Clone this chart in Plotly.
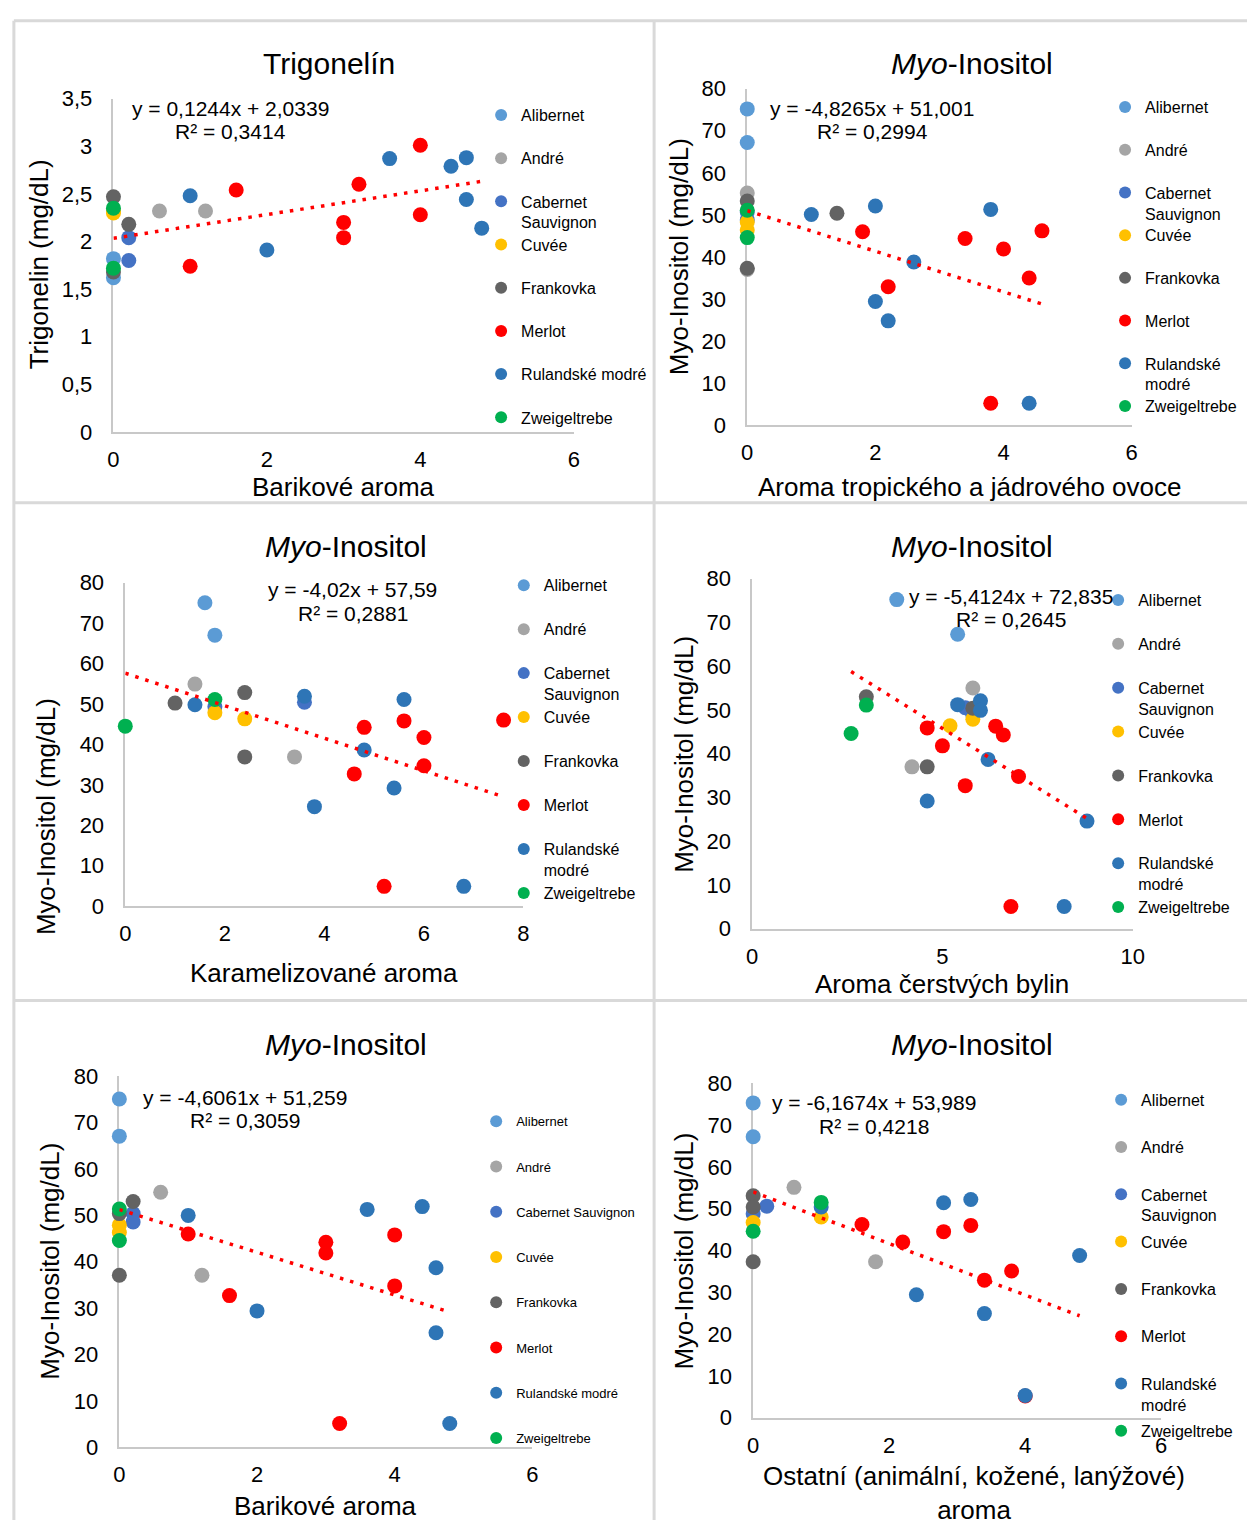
import plotly.graph_objects as go

W, H = 1259, 1533
FONT = "Liberation Sans, Arial, sans-serif"

VARIETIES = ["Alibernet", "André", "Cabernet Sauvignon", "Cuvée", "Frankovka",
             "Merlot", "Rulandské modré", "Zweigeltrebe"]
COLORS = ["#5B9BD5", "#A5A5A5", "#4472C4", "#FFC000", "#636363",
          "#FF0000", "#2E75B6", "#00B050"]

# ---- data (per variety, in VARIETIES order) ----
# Panel 1: Trigonelin vs Barikové aroma
P1_X = [[0, 0], [0.6, 1.2], [0.2, 0.2], [0, 0], [0, 0.2, 0],
        [1.6, 1.0, 3.0, 3.0, 3.2, 4.0, 4.0], [1.0, 2.0, 3.6, 4.4, 4.6, 4.6, 4.8], [0, 0]]
P1_Y = [[1.82, 1.62], [2.32, 2.32], [2.04, 1.80], [2.32, 2.30], [2.47, 2.18, 1.68],
        [2.54, 1.74, 2.20, 2.04, 2.60, 3.01, 2.28], [2.48, 1.91, 2.87, 2.79, 2.88, 2.44, 2.14], [2.35, 1.72]]
# Panel 2: Myo-Inositol vs Aroma tropického a jádrového ovoce
P2_X = [[0, 0], [0, 0], [0, 0], [0, 0], [0, 1.4, 0],
        [1.8, 2.2, 3.4, 4.0, 4.6, 4.4, 3.8], [1.0, 2.0, 2.6, 2.0, 2.2, 3.8, 4.4], [0, 0]]
P2_Y = [[75.2, 67.2], [55.2, 37.0], [50.7, 48.8], [48.3, 46.4], [53.3, 50.4, 37.3],
        [46.0, 32.9, 44.4, 41.9, 46.2, 35.0, 5.2], [50.1, 52.1, 38.8, 29.4, 24.8, 51.3, 5.2], [51.1, 44.6]]
# Panel 3: Myo-Inositol vs Karamelizované aroma
P3_X = [[1.6, 1.8], [1.4, 3.4], [1.8, 3.6], [1.8, 2.4], [1.0, 2.4, 2.4],
        [4.8, 4.6, 5.6, 6.0, 6.0, 5.2, 7.6], [1.4, 3.6, 3.8, 4.8, 5.6, 5.4, 6.8], [1.8, 0]]
P3_Y = [[75.0, 67.0], [54.9, 36.9], [49.3, 50.4], [47.8, 46.3], [50.2, 52.8, 36.9],
        [44.2, 32.7, 45.8, 41.7, 34.7, 4.9, 46.0], [49.8, 51.9, 24.6, 38.6, 51.1, 29.2, 4.9], [51.1, 44.5]]
# Panel 4: Myo-Inositol vs Aroma čerstvých bylin
P4_X = [[3.8, 5.4], [5.8, 4.2], [5.6, 5.8], [5.2, 5.8], [3.0, 5.8, 4.6],
        [4.6, 5.0, 6.4, 6.6, 7.0, 5.6, 6.8], [5.4, 6.0, 6.0, 6.2, 4.6, 8.8, 8.2], [3.0, 2.6]]
P4_Y = [[75.2, 67.3], [55.0, 37.0], [50.5, 48.8], [46.4, 47.9], [53.0, 50.4, 37.0],
        [45.9, 41.8, 46.3, 44.3, 34.8, 32.7, 5.1], [51.2, 52.1, 49.9, 38.7, 29.2, 24.6, 5.1], [51.1, 44.6]]
# Panel 5: Myo-Inositol vs Barikové aroma
P5_X = [[0, 0], [0.6, 1.2], [0.2, 0.2], [0, 0], [0.2, 0, 0],
        [1.0, 1.6, 3.0, 3.0, 4.0, 4.0, 3.2], [1.0, 2.0, 3.6, 4.4, 4.6, 4.6, 4.8], [0, 0]]
P5_Y = [[75.1, 67.1], [55.0, 37.1], [50.4, 48.6], [47.9, 46.3], [53.0, 50.4, 37.1],
        [46.0, 32.7, 44.2, 41.9, 45.8, 34.8, 5.1], [50.0, 29.4, 51.3, 51.9, 38.7, 24.7, 5.1], [51.4, 44.6]]
# Panel 6: Myo-Inositol vs Ostatní aroma
P6_X = [[0, 0], [0.6, 1.8], [0.2, 0], [0, 1.0], [0, 0, 0],
        [1.6, 2.2, 2.8, 3.2, 3.4, 3.8, 4.0], [1.0, 2.4, 2.8, 3.2, 3.4, 4.0, 4.8], [0, 1.0]]
P6_Y = [[75.3, 67.2], [55.1, 37.3], [50.6, 48.8], [46.7, 48.0], [53.1, 50.4, 37.3],
        [46.2, 42.0, 44.5, 46.0, 32.9, 35.1, 5.2], [50.4, 29.4, 51.4, 52.2, 24.9, 5.3, 38.8], [44.6, 51.5]]

TREND_SLOPE = [0.1244, -4.8265, -4.02, -5.4124, -4.6061, -6.1674]
TREND_INTERCEPT = [2.0339, 51.001, 57.59, 72.835, 51.259, 53.989]
TREND_R2 = [0.3414, 0.2994, 0.2881, 0.2645, 0.3059, 0.4218]

TITLES = ["Trigonelín", "<i>Myo</i>-Inositol", "<i>Myo</i>-Inositol",
          "<i>Myo</i>-Inositol", "<i>Myo</i>-Inositol", "<i>Myo</i>-Inositol"]
X_TITLES = ["Barikové aroma", "Aroma tropického a jádrového ovoce", "Karamelizované aroma",
            "Aroma čerstvých bylin", "Barikové aroma", "Ostatní (animální, kožené, lanýžové)<br>aroma"]
Y_TITLES = ["Trigonelin (mg/dL)", "Myo-Inositol (mg/dL)", "Myo-Inositol (mg/dL)",
            "Myo-Inositol (mg/dL)", "Myo-Inositol (mg/dL)", "Myo-Inositol (mg/dL)"]
X_RANGES = [[0, 6], [0, 6], [0, 8], [0, 10], [0, 6], [0, 6]]
X_DTICK = [2, 2, 2, 5, 2, 2]
Y_RANGES = [[0, 3.5], [0, 80], [0, 80], [0, 80], [0, 80], [0, 80]]
Y_DTICK = [0.5, 10, 10, 10, 10, 10]

PX = [P1_X, P2_X, P3_X, P4_X, P5_X, P6_X]
PY = [P1_Y, P2_Y, P3_Y, P4_Y, P5_Y, P6_Y]

# ---- layout geometry (pixels) ----
PLOT_BOX = [(109, 576, 88, 427), (752, 1142, 78, 420), (121, 525, 580, 909),
            (757, 1143, 576, 932), (115, 534, 1082, 1459), (758, 1172, 1089, 1429)]
TITLE_POS = [(328, 52), (980, 52), (345, 543), (980, 543), (345, 1050), (980, 1050)]
XT_POS = [(342, 483), (977, 483), (323, 977), (950, 988), (324, 1519), (982, 1506)]
YT_POS = [(33, 257), (683, 249), (40, 818), (688, 755), (45, 1270), (688, 1260)]
EQ_POS = [(228, 98, 121), (879, 98, 121), (352, 587, 611), (1020, 594, 618),
          (242, 1103, 1127), (881, 1109, 1133)]
# legend: text start x, first line y, spacing, font size, wrap Cabernet, wrap Rulandské
LEG = [(522, 105, 43.9, 16, True, False), (1155, 97, 43.4, 16, True, True),
       (545, 583, 44.7, 16, True, True), (1148, 598, 44.6, 16, True, True),
       (517, 1127, 46.0, 13, False, False), (1151, 1106, 48.1, 16, True, True)]


def fx(px):
    return px / W


def fy(py):
    return 1 - py / H


fig = go.Figure()
layout = dict(width=W, height=H, margin=dict(l=0, r=0, t=0, b=0),
              paper_bgcolor="white", plot_bgcolor="rgba(0,0,0,0)",
              separators=", ", font=dict(family=FONT, color="black"),
              showlegend=True)
annotations = []
shapes = []

for p in range(6):
    sfx = "" if p == 0 else str(p + 1)
    xa, ya = "x" + sfx, "y" + sfx
    x0, x1, y0, y1 = PLOT_BOX[p]
    layout["xaxis" + sfx] = dict(
        domain=[fx(x0), fx(x1)], range=X_RANGES[p], dtick=X_DTICK[p], tick0=0,
        anchor=ya, showgrid=False, zeroline=False, showline=True,
        linecolor="#C8C8C8", linewidth=1.5, ticks="", layer="below traces",
        tickfont=dict(size=22, family=FONT, color="black"), ticklabelstandoff=7,
        fixedrange=True)
    layout["yaxis" + sfx] = dict(
        domain=[fy(y1), fy(y0)], range=Y_RANGES[p], dtick=Y_DTICK[p], tick0=0,
        anchor=xa, showgrid=False, zeroline=False, showline=True,
        linecolor="#C8C8C8", linewidth=1.5, ticks="", layer="below traces",
        tickfont=dict(size=22, family=FONT, color="black"), ticklabelstandoff=15,
        fixedrange=True)

    tx, ly0, lsp, lfs, wrapc, wrapr = LEG[p]
    for i, name in enumerate(VARIETIES):
        n = p * 8 + i + 1
        lid = "legend" if n == 1 else "legend%d" % n
        label = name
        if name == "Cabernet Sauvignon" and wrapc:
            label = "Cabernet<br>Sauvignon"
        if name == "Rulandské modré" and wrapr:
            label = "Rulandské<br>modré"
        fig.add_trace(go.Scatter(
            x=PX[p][i], y=PY[p][i], mode="markers", name=label,
            marker=dict(size=15, color=COLORS[i], line=dict(width=0)),
            xaxis=xa, yaxis=ya, legend=lid, cliponaxis=False,
            hovertemplate=name + ": %{x}; %{y}<extra></extra>"))
        layout[lid] = dict(
            x=fx(tx - 40), y=fy(ly0 + i * lsp - (lfs + 1.5)), xanchor="left", yanchor="top",
            bgcolor="rgba(0,0,0,0)", borderwidth=0, itemsizing="constant",
            valign="top", font=dict(size=lfs, family=FONT, color="black"))

    # linear trendline from the printed fit, over the data's x extent
    allx = [v for grp in PX[p] for v in grp]
    tx_line = [min(allx), max(allx)]
    ty_line = [TREND_SLOPE[p] * v + TREND_INTERCEPT[p] for v in tx_line]
    fig.add_trace(go.Scatter(
        x=tx_line, y=ty_line, mode="lines", showlegend=False,
        line=dict(color="#FF0000", width=3.5, dash="3.5px,7px"),
        xaxis=xa, yaxis=ya, hoverinfo="skip", cliponaxis=False))

    # chart title
    annotations.append(dict(text=TITLES[p], x=fx(TITLE_POS[p][0]), y=fy(TITLE_POS[p][1]),
                            xref="paper", yref="paper", showarrow=False,
                            xanchor="center", yanchor="middle",
                            font=dict(size=30, family=FONT, color="black")))
    # axis titles
    annotations.append(dict(text=X_TITLES[p], x=fx(XT_POS[p][0]), y=fy(XT_POS[p][1]),
                            xref="paper", yref="paper", showarrow=False,
                            xanchor="center", yanchor="middle",
                            font=dict(size=26, family=FONT, color="black")))
    annotations.append(dict(text=Y_TITLES[p], x=fx(YT_POS[p][0]), y=fy(YT_POS[p][1]),
                            xref="paper", yref="paper", showarrow=False, textangle=-90,
                            xanchor="center", yanchor="middle",
                            font=dict(size=26, family=FONT, color="black")))
    # trendline equation
    s = str(TREND_SLOPE[p]).replace(".", ",")
    b = str(TREND_INTERCEPT[p]).replace(".", ",")
    r = str(TREND_R2[p]).replace(".", ",")
    ex, ey1, ey2 = EQ_POS[p]
    annotations.append(dict(text="y = %sx + %s" % (s, b), x=fx(ex), y=fy(ey1),
                            xref="paper", yref="paper", showarrow=False,
                            xanchor="center", yanchor="middle",
                            font=dict(size=21, family=FONT, color="black")))
    annotations.append(dict(text="R² = %s" % r, x=fx(ex), y=fy(ey2),
                            xref="paper", yref="paper", showarrow=False,
                            xanchor="center", yanchor="middle",
                            font=dict(size=21, family=FONT, color="black")))

# panel borders
border = dict(color="#D9D9D9", width=3)
for (a, b_, c, d) in [(8, 9, 1259, 9), (8, 9, 8, 1533), (657.5, 9, 657.5, 1533),
                      (8, 499, 1259, 499), (8, 1005, 1259, 1005)]:
    shapes.append(dict(type="line", xref="paper", yref="paper",
                       x0=fx(a), y0=fy(b_), x1=fx(c), y1=fy(d), line=border, layer="below"))

layout["annotations"] = annotations
layout["shapes"] = shapes
fig.update_layout(**layout)
fig.write_html("out.html")
